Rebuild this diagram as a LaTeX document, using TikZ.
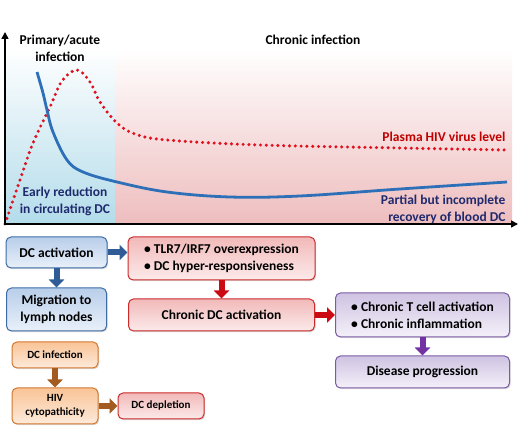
\documentclass[tikz,border=0pt]{standalone}
\usepackage{fontspec}
\setmainfont{Carlito}
\usepackage{tikz}
\usetikzlibrary{positioning, arrows.meta, shadows}
\definecolor{panelblue}{HTML}{B3DCEA}
\definecolor{panelred}{HTML}{EEBDBE}
\definecolor{dcblue}{HTML}{2E70B8}
\definecolor{virusred}{HTML}{E0101E}
\definecolor{navytxt}{HTML}{1F2A6E}
\definecolor{darkred}{HTML}{C00000}
\definecolor{bluebd}{HTML}{3C6CA8}
\definecolor{bluetop}{HTML}{B8CEEA}
\definecolor{bluebot}{HTML}{E9F0F9}
\definecolor{redbd}{HTML}{CC2B2B}
\definecolor{redtop}{HTML}{F2B9B9}
\definecolor{redbot}{HTML}{FCEAEA}
\definecolor{purpbd}{HTML}{7A5BA6}
\definecolor{purptop}{HTML}{CFC3E2}
\definecolor{purpbot}{HTML}{F4F0F9}
\definecolor{orbd}{HTML}{D2772E}
\definecolor{ortop}{HTML}{F9C496}
\definecolor{orbot}{HTML}{FDEADB}
\definecolor{bluearr}{HTML}{2F5C96}
\definecolor{redarr}{HTML}{CC0A14}
\definecolor{purparr}{HTML}{7232A4}
\definecolor{orarr}{HTML}{A35B1F}
\tikzset{title/.style={font=\fontsize{13.5}{17}\selectfont\bfseries, align=center}}
\tikzset{block/.style={rectangle, draw, line width=1pt, rounded corners=5pt, align=center, inner sep=2pt,
 font=\fontsize{13.5}{17}\selectfont\bfseries, drop shadow={opacity=0.3, shadow xshift=1.2pt, shadow yshift=-1.2pt}}}
\tikzset{smallbox/.style={font=\fontsize{11}{14.5}\selectfont\bfseries}}
\tikzset{bluebox/.style={block, draw=bluebd, top color=bluetop, bottom color=bluebot}}
\tikzset{redbox/.style={block, draw=redbd, top color=redtop, bottom color=redbot}}
\tikzset{purplebox/.style={block, draw=purpbd, top color=purptop, bottom color=purpbot}}
\tikzset{orangebox/.style={block, smallbox, draw=orbd, top color=ortop, bottom color=orbot}}
\tikzset{barrow/.style={draw, line width=6pt, -{Triangle[length=8pt,width=15pt]}}}
\tikzset{axis/.style={draw, line width=1.6pt, {Triangle[length=7pt,width=7pt]}-{Triangle[length=7pt,width=7pt]}}}

\begin{document}
\begin{tikzpicture}[x=1pt, y=1pt]
\useasboundingbox (0,0) rectangle (520,428);
\shade[top color=white, bottom color=panelblue] (5,204) rectangle (115,380);
\shade[top color=white, bottom color=panelred] (115,204) rectangle (512,380);
\coordinate (O) at (5,204);
\coordinate (Ytop) at (5,396);
\coordinate (Xend) at (518,204);
\draw[virusred, line width=3.4pt, line cap=round, dash pattern=on 0pt off 5.8pt]
  plot[smooth, tension=0.6] coordinates {(5,204) (20,248) (33,285) (50,321) (62,347) (77,358) (90,346) (100,326) (117,305) (135,294) (167,288) (260,283) (400,280) (507,278)};
\draw[dcblue, line width=2.8pt]
  plot[smooth, tension=0.6] coordinates {(37,356) (43,335) (47,318) (53,296) (67,268) (83,256) (117,246) (167,236) (230,231) (300,232) (400,239) (507,246)};
\path[axis] (Ytop) -- (O) -- (Xend);
\node[title] (Prim) at (60,380) {Primary/acute\\infection};
\node[title] (Chron) at (313,388) {Chronic infection};
\node[title, text=darkred, anchor=east] (Plasma) at (509,291) {Plasma HIV virus level};
\node[title, text=navytxt, align=right, anchor=east] (Partial) at (509,219) {Partial but incomplete\\recovery of blood DC};
\node[title, text=navytxt] (Early) at (65,227) {Early reduction\\in circulating DC};
\node[bluebox, minimum width=101pt, minimum height=31pt] (DCact) at (56.5,175.5) {DC activation};
\node[bluebox, minimum width=100pt, minimum height=43pt, below=19pt of DCact] (Migr) {Migration to\\lymph nodes};
\node[redbox, align=left, minimum width=187pt, minimum height=43pt, right=20pt of DCact.north east, anchor=north west] (TLR) {\textbullet\ TLR7/IRF7 overexpression\\\textbullet\ DC hyper-responsiveness};
\node[redbox, minimum width=186pt, minimum height=32pt, below=18pt of TLR] (ChrDC) {Chronic DC activation};
\node[purplebox, align=left, minimum width=174pt, minimum height=44pt, right=20pt of ChrDC] (Tcell) {\textbullet\ Chronic T cell activation\\\textbullet\ Chronic inflammation};
\node[purplebox, minimum width=174pt, minimum height=32pt, below=18pt of Tcell] (Dis) {Disease progression};
\node[orangebox, minimum width=86pt, minimum height=26pt] (DCinf) at (55,73) {DC infection};
\node[orangebox, minimum width=86pt, minimum height=36pt, below=19pt of DCinf] (Cyto) {HIV\\cytopathicity};
\node[redbox, smallbox, minimum width=86pt, minimum height=26pt, right=19pt of Cyto] (Depl) {DC depletion};
\path[barrow, draw=bluearr] (DCact) -- (Migr);
\path[barrow, draw=bluearr] (DCact) -- (DCact -| TLR.west);
\path[barrow, draw=redarr] (TLR) -- (ChrDC);
\path[barrow, draw=redarr] (ChrDC) -- (ChrDC -| Tcell.west);
\path[barrow, draw=purparr] (Tcell) -- (Dis);
\path[barrow, draw=orarr] (DCinf) -- (Cyto);
\path[barrow, draw=orarr] (Cyto) -- (Depl);
\end{tikzpicture}
\end{document}
